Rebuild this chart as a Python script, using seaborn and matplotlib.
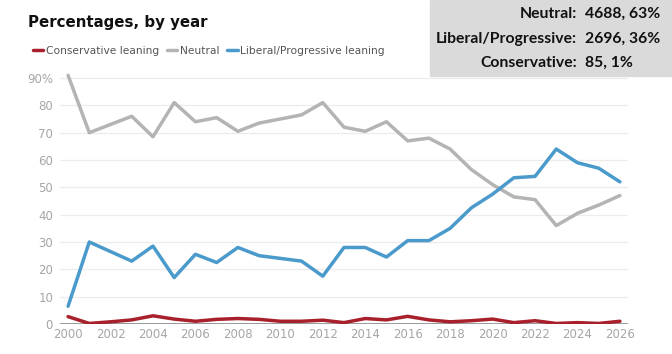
import numpy as np
import pandas as pd
import seaborn as sns
import matplotlib.pyplot as plt
from matplotlib.patches import Rectangle
from matplotlib.lines import Line2D

years = list(range(2000, 2027))

neutral = [91, 70, 73, 76, 68.5, 81, 74, 75.5, 70.5, 73.5, 75, 76.5, 81, 72, 70.5,
           74, 67, 68, 64, 56.5, 51, 46.5, 45.5, 36, 40.5, 43.5, 47]
liberal = [6.5, 30, 26.5, 23, 28.5, 17, 25.5, 22.5, 28, 25, 24, 23, 17.5, 28, 28,
           24.5, 30.5, 30.5, 35, 42.5, 47.5, 53.5, 54, 64, 59, 57, 52]
conservative = [2.7, 0.2, 0.8, 1.5, 3, 1.8, 1, 1.7, 2, 1.7, 1, 1, 1.4, 0.5, 2,
                1.5, 2.8, 1.5, 0.8, 1.2, 1.8, 0.5, 1.2, 0.2, 0.5, 0.2, 1]

series_names = ['Conservative leaning', 'Neutral', 'Liberal/Progressive leaning']
series_colors = ['#a8202b', '#b4b4b4', '#4a9acb']

summary_labels = ['Neutral:', 'Liberal/Progressive:', 'Conservative:']
summary_values = ['4688, 63%', '2696, 36%', '85, 1%']

# long format for seaborn
df = pd.DataFrame({
    'year': years * 3,
    'pct': conservative + neutral + liberal,
    'series': [series_names[0]] * len(years) + [series_names[1]] * len(years)
              + [series_names[2]] * len(years),
})

sns.set_style('white')
plt.rcParams['font.family'] = ['DejaVu Sans']

fig = plt.figure(figsize=(6.72, 3.54), dpi=100)
ax = fig.add_axes([60 / 672, 1 - 324 / 354, 568 / 672, (324 - 69.8) / 354])

# grid lines
for v in range(10, 100, 10):
    ax.axhline(v, color='#ececec', lw=0.9, zorder=0)

sns.lineplot(data=df, x='year', y='pct', hue='series', hue_order=series_names,
             palette=series_colors, linewidth=2.5, legend=False, ax=ax, zorder=3)

ax.axhline(0, color='#999999', lw=1.4, zorder=2, xmin=-0.005)
ax.set_xlim(1999.62, 2026.38)
ax.set_ylim(0, 93)
ax.set_xticks(range(2000, 2027, 2))
ax.set_yticks(range(0, 100, 10))
ax.set_yticklabels([str(v) if v < 90 else '90%' for v in range(0, 100, 10)])
ax.tick_params(axis='both', length=0, labelsize=8.5, colors='#a6a6a6')
ax.tick_params(axis='y', pad=5)
ax.tick_params(axis='x', pad=3)
ax.set_xlabel('')
ax.set_ylabel('')
sns.despine(ax=ax, left=True, bottom=True)

# title and legend
fig.text(28 / 672, 1 - 22 / 354, 'Percentages, by year', fontsize=10.8,
         fontweight='bold', color='#111111', va='center', ha='left')
handles = [Line2D([], [], color=c, lw=2.5) for c in series_colors]
fig.legend(handles, series_names, loc='center left',
           bbox_to_anchor=(23 / 672, 1 - 51 / 354), ncol=3, frameon=False,
           fontsize=7.7, handlelength=1.0, handletextpad=0.25, columnspacing=0.7,
           labelcolor='#555555')

# summary box
fig.patches.append(Rectangle((430 / 672, 1 - 76 / 354), 242 / 672, 76 / 354,
                             transform=fig.transFigure, color='#dadada', zorder=0))
row_y = [14, 39, 63]
for lab, val, yy in zip(summary_labels, summary_values, row_y):
    fig.text(577 / 672, 1 - yy / 354, lab, ha='right', va='center', fontsize=11.3,
             fontweight='bold', color='#111111', family='Lato')
    fig.text(585 / 672, 1 - yy / 354, val, ha='left', va='center', fontsize=11.3,
             fontweight='bold', color='#111111', family='Lato')

fig.savefig('out.png', dpi=100)
